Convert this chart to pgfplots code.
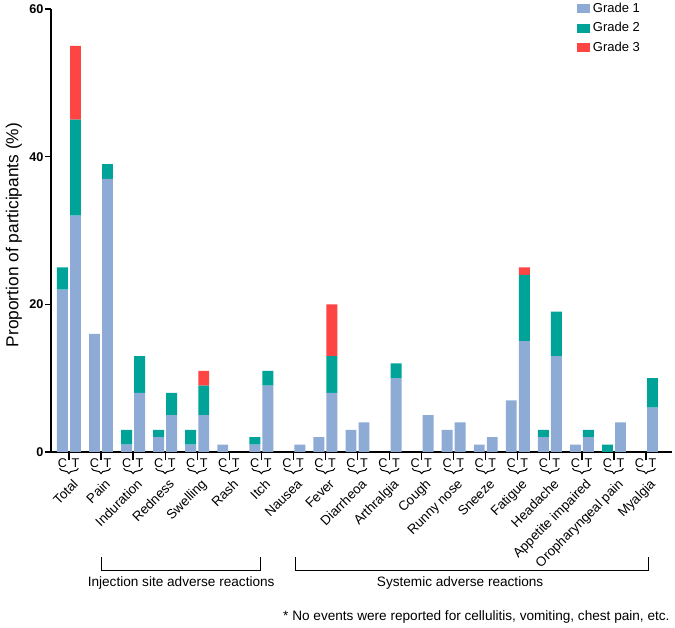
\documentclass[border=0pt]{standalone}
\usepackage{fontspec}
\setmainfont{Liberation Sans}
\usepackage{pgfplots}
\usepackage{pgfplotstable}
\pgfplotsset{compat=1.18}
\usetikzlibrary{decorations.pathreplacing}
\definecolor{gA}{RGB}{142,171,213}
\definecolor{gB}{RGB}{0,163,152}
\definecolor{gC}{RGB}{255,68,68}
% Categories: 0 Total, 1 Pain, 2 Induration, 3 Redness, 4 Swelling, 5 Rash, 6 Itch,
% 7 Nausea, 8 Fever, 9 Diarrheoa, 10 Arthralgia, 11 Cough, 12 Runny nose, 13 Sneeze,
% 14 Fatigue, 15 Headache, 16 Appetite impaired, 17 Oropharyngeal pain, 18 Myalgia
% each category: C bar at i-0.203, T bar at i+0.203; g1,g2,g3 = stacked segment heights
\pgfplotstableread{
x g1 g2 g3
-0.203 22 3 0
0.203 32 13 10
0.797 16 0 0
1.203 37 2 0
1.797 1 2 0
2.203 8 5 0
2.797 2 1 0
3.203 5 3 0
3.797 1 2 0
4.203 5 4 2
4.797 1 0 0
5.203 0 0 0
5.797 1 1 0
6.203 9 2 0
6.797 0 0 0
7.203 1 0 0
7.797 2 0 0
8.203 8 5 7
8.797 3 0 0
9.203 4 0 0
9.797 0 0 0
10.203 10 2 0
10.797 0 0 0
11.203 5 0 0
11.797 3 0 0
12.203 4 0 0
12.797 1 0 0
13.203 2 0 0
13.797 7 0 0
14.203 15 9 1
14.797 2 1 0
15.203 13 6 0
15.797 1 0 0
16.203 2 1 0
16.797 0 1 0
17.203 4 0 0
17.797 0 0 0
18.203 6 4 0
}\datatab
\tikzset{
  ct/.style={inner sep=0pt, font=\fontsize{9.5}{11}\selectfont},
  brc/.style={decorate, decoration={brace, mirror, amplitude=4pt}, line width=0.75pt},
  cat/.style={rotate=45, anchor=north east, inner sep=0pt, font=\fontsize{10}{12}\selectfont},
}
\begin{document}
\begin{tikzpicture}
\useasboundingbox (0,0) rectangle (506.25pt,471pt);
\begin{axis}[
  at={(38.25pt,132pt)}, anchor=south west,
  scale only axis, width=465.75pt, height=332.25pt,
  xmin=-0.56, xmax=18.81, ymin=0, ymax=60,
  axis x line*=bottom, axis y line*=left,
  axis line style={line width=1.3pt, black},
  xtick=\empty,
  ytick={0,20,40,60},
  tick align=outside, major tick length=4.5pt,
  tick style={line width=1pt, black},
  yticklabel style={font=\bfseries\fontsize{9.5}{11}\selectfont, inner sep=1pt},
  /pgf/number format/assume math mode=true,
  ybar stacked, bar width=0.34,
  clip=false,
  legend style={draw=none, fill=none, at={(0.953,1.02)}, anchor=north east,
    font=\fontsize{9.75}{11}\selectfont, row sep=2pt, inner sep=0pt},
  legend cell align=left,
  legend image code/.code={\fill[#1] (0pt,-3.4pt) rectangle (10pt,3.4pt);},
]
\addplot[fill=gA, draw=none] table[x=x,y=g1]{\datatab};
\addlegendentry{Grade 1}
\addplot[fill=gB, draw=none] table[x=x,y=g2]{\datatab};
\addlegendentry{Grade 2}
\addplot[fill=gC, draw=none] table[x=x,y=g3]{\datatab};
\addlegendentry{Grade 3}

\foreach \i/\n in {0/Total,1/Pain,2/Induration,3/Redness,4/Swelling,5/Rash,6/Itch,7/Nausea,8/Fever,9/Diarrheoa,10/Arthralgia,11/Cough,12/Runny nose,13/Sneeze,14/Fatigue,15/Headache,16/Appetite impaired,17/Oropharyngeal pain,18/Myalgia}{
  \edef\tmp{%
    \noexpand\draw[line width=0.9pt] (axis cs:\i,0) -- ++(0pt,-6pt);
    \noexpand\node[ct] at ([xshift=-4.875pt,yshift=-8.1pt]axis cs:\i,0) {C};
    \noexpand\node[ct] at ([xshift=4.875pt,yshift=-8.1pt]axis cs:\i,0) {T};
    \noexpand\draw[brc] ([xshift=-7.1pt,yshift=-12.2pt]axis cs:\i,0) -- ([xshift=7.1pt,yshift=-12.2pt]axis cs:\i,0);
    \noexpand\node[cat] at ([xshift=2.25pt,yshift=-19.5pt]axis cs:\i,0) {\n};
  }\tmp
}

\draw[line width=0.75pt] ([yshift=-79pt]axis cs:1.01,0) -- ([yshift=-88.7pt]axis cs:1.01,0) -- ([yshift=-88.7pt]axis cs:5.97,0) -- ([yshift=-79pt]axis cs:5.97,0);
\node[anchor=base, inner sep=0pt, font=\fontsize{10.2}{12}\selectfont] at ([yshift=-101.2pt]axis cs:3.5,0) {Injection site adverse reactions};
\draw[line width=0.75pt] ([yshift=-79pt]axis cs:7.07,0) -- ([yshift=-88.7pt]axis cs:7.07,0) -- ([yshift=-88.7pt]axis cs:18.07,0) -- ([yshift=-79pt]axis cs:18.07,0);
\node[anchor=base, inner sep=0pt, font=\fontsize{10.2}{12}\selectfont] at ([yshift=-101.2pt]axis cs:12.2,0) {Systemic adverse reactions};
\node[anchor=base east, inner sep=0pt, font=\fontsize{10.2}{12}\selectfont] at ([yshift=-126.2pt]axis cs:18.74,0) {* No events were reported for cellulitis, vomiting, chest pain, etc.};
\node[rotate=90, inner sep=0pt, font=\fontsize{13}{15}\selectfont] at ([xshift=-27.75pt,yshift=-3.4pt]rel axis cs:0,0.5) {Proportion of participants (\%)};
\end{axis}
\end{tikzpicture}
\end{document}
